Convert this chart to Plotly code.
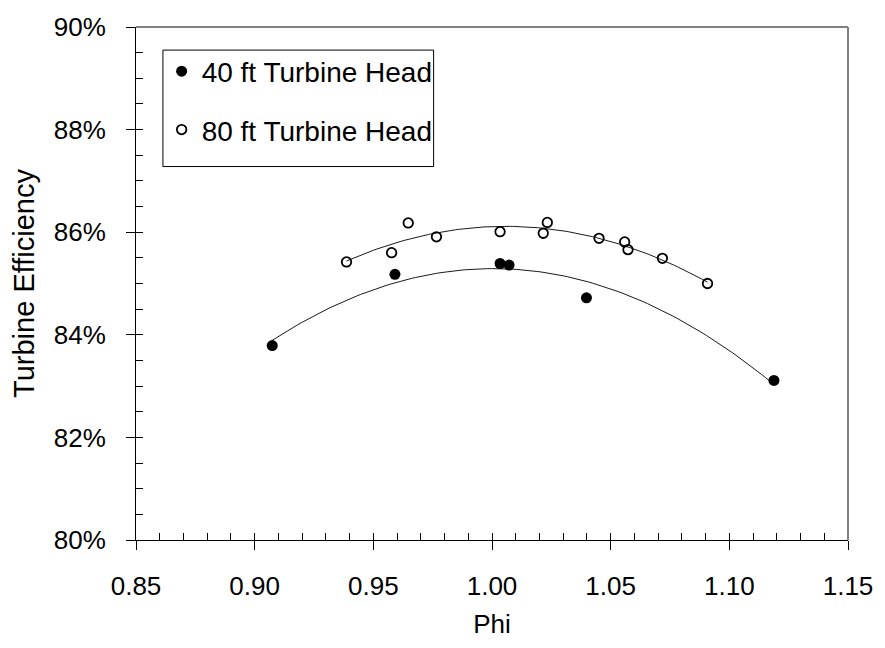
import numpy as np
import plotly.graph_objects as go

# ---- data ----
phi_40 = [0.9074, 0.9591, 1.0034, 1.0072, 1.0398, 1.1188]
eff_40 = [83.79, 85.18, 85.39, 85.36, 84.72, 83.11]

phi_80 = [0.9387, 0.9577, 0.9647, 0.9766, 1.0034, 1.0216, 1.0233,
          1.0451, 1.0559, 1.0573, 1.0718, 1.0908]
eff_80 = [85.42, 85.60, 86.18, 85.91, 86.01, 85.98, 86.19,
          85.88, 85.81, 85.66, 85.49, 85.00]

x_ticks = [0.85, 0.90, 0.95, 1.00, 1.05, 1.10, 1.15]
y_ticks = [80, 82, 84, 86, 88, 90]

FONT = "Arial, Liberation Sans, sans-serif"
FS = 26


def trend(xs, ys):
    c = np.polyfit(xs, ys, 2)
    xx = np.linspace(min(xs), max(xs), 120)
    return xx, np.polyval(c, xx)


fig = go.Figure()

for xs, ys in [(phi_40, eff_40), (phi_80, eff_80)]:
    tx, ty = trend(xs, ys)
    fig.add_trace(go.Scatter(x=tx, y=ty, mode="lines",
                             line=dict(color="#1a1a1a", width=1),
                             showlegend=False, hoverinfo="skip"))

fig.add_trace(go.Scatter(x=phi_40, y=eff_40, mode="markers",
                         name="40 ft Turbine Head", legendgroup="a",
                         marker=dict(symbol="circle", color="black", size=11)))
fig.add_trace(go.Scatter(x=phi_80, y=eff_80, mode="markers",
                         name="80 ft Turbine Head", legendgroup="b",
                         marker=dict(symbol="circle-open", color="black", size=9.5,
                                     line=dict(width=1.8))))

# overlay axes for the inside (minor) ticks
fig.add_trace(go.Scatter(x=[None], y=[None], xaxis="x2", yaxis="y2",
                         showlegend=False, hoverinfo="skip"))

fig.update_layout(
    width=885, height=648,
    margin=dict(l=136, r=34, t=21, b=108),
    paper_bgcolor="white", plot_bgcolor="white",
    font=dict(family=FONT, size=FS, color="black"),
    showlegend=True,
    legend=dict(x=0.036, y=0.962, xanchor="left", yanchor="top",
                borderwidth=0, bgcolor="rgba(0,0,0,0)",
                font=dict(family=FONT, size=28, color="black"),
                traceorder="grouped", tracegroupgap=19),
    xaxis=dict(range=[0.85, 1.15], tickvals=x_ticks,
               ticktext=[f"{v:.2f}" for v in x_ticks],
               ticks="outside", ticklen=9, tickwidth=1, tickcolor="black",
               showline=True, linecolor="black", linewidth=1,
               showgrid=False, zeroline=False, ticklabelstandoff=14,
               title=dict(text="Phi", font=dict(size=FS), standoff=14)),
    yaxis=dict(range=[80, 90], tickvals=y_ticks,
               ticktext=[f"{v}%" for v in y_ticks],
               ticks="outside", ticklen=9, tickwidth=1, tickcolor="black",
               showline=True, linecolor="black", linewidth=1,
               showgrid=False, zeroline=False, ticklabelstandoff=15,
               title=dict(text="Turbine Efficiency", font=dict(size=29), standoff=10)),
    xaxis2=dict(overlaying="x", range=[0.85, 1.15], dtick=0.01, tick0=0.85,
                ticks="inside", ticklen=7, tickwidth=1, tickcolor="black",
                showticklabels=False, showgrid=False, zeroline=False,
                showline=False, side="bottom"),
    yaxis2=dict(overlaying="y", range=[80, 90], dtick=0.5, tick0=80,
                ticks="inside", ticklen=7, tickwidth=1, tickcolor="black",
                showticklabels=False, showgrid=False, zeroline=False,
                showline=False, side="left"),
    shapes=[
        dict(type="line", xref="paper", yref="paper", x0=0, x1=1, y0=1, y1=1,
             line=dict(color="#808080", width=2)),
        dict(type="line", xref="paper", yref="paper", x0=1, x1=1, y0=0, y1=1,
             line=dict(color="#808080", width=2)),
        # legend frame
        dict(type="rect", xref="paper", yref="paper",
             x0=0.0378, x1=0.418, y0=0.728, y1=0.955,
             line=dict(color="black", width=1), fillcolor="white", layer="below"),
    ],
)

fig.write_html("out.html")
